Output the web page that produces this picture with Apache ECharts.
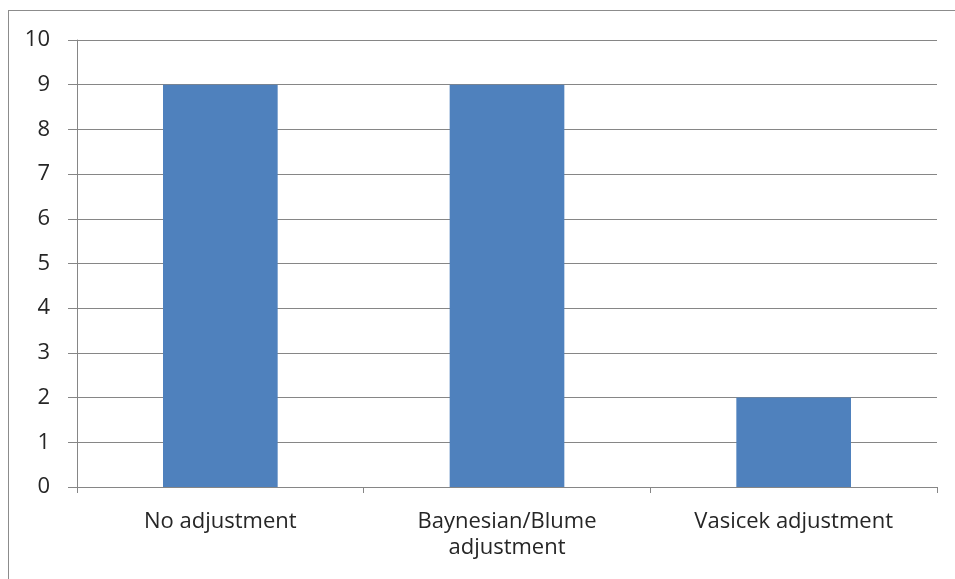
<!DOCTYPE html>
<html>
<head>
<meta charset="utf-8">
<script src="https://cdn.jsdelivr.net/npm/echarts@6/dist/echarts.min.js"></script>
<style>
  html, body { margin: 0; padding: 0; background: #fff; }
  .frame { position: absolute; left: 8px; top: 10px; width: 960px; height: 600px; border: 1px solid #8c8c8c; }
  #chart { position: absolute; left: 0; top: 0; width: 955px; height: 579px; }
</style>
</head>
<body>
<div class="frame"></div>
<div id="chart"></div>
<script>
const categories = ['No adjustment', 'Baynesian/Blume adjustment', 'Vasicek adjustment']
const counts = [9, 9, 2]
const yTicks = { min: 0, max: 10, interval: 1 }

const chart = echarts.init(document.getElementById('chart'))
const font = '"Open Sans", sans-serif'

chart.setOption({
  animation: false,
  grid: { left: 77, right: 18, top: 40, bottom: 92 },
  xAxis: {
    type: 'category',
    data: categories,
    axisLine: { lineStyle: { color: '#868686' } },
    axisTick: { show: true, length: 6, lineStyle: { color: '#868686' } },
    axisLabel: {
      color: '#262626', fontSize: 22, fontFamily: font, margin: 22, lineHeight: 26,
      formatter: v => v.replace('Blume ', 'Blume\n')
    }
  },
  yAxis: {
    type: 'value',
    min: yTicks.min, max: yTicks.max, interval: yTicks.interval,
    axisLine: { show: true, lineStyle: { color: '#868686' } },
    axisTick: { show: true, length: 9, lineStyle: { color: '#868686' } },
    axisLabel: { color: '#262626', fontSize: 22, fontFamily: font, margin: 27 },
    splitLine: { lineStyle: { color: '#868686' } }
  },
  series: [{
    type: 'bar',
    data: counts,
    barWidth: '40%',
    itemStyle: { color: '#4f81bd' }
  }]
})
</script>
</body>
</html>
